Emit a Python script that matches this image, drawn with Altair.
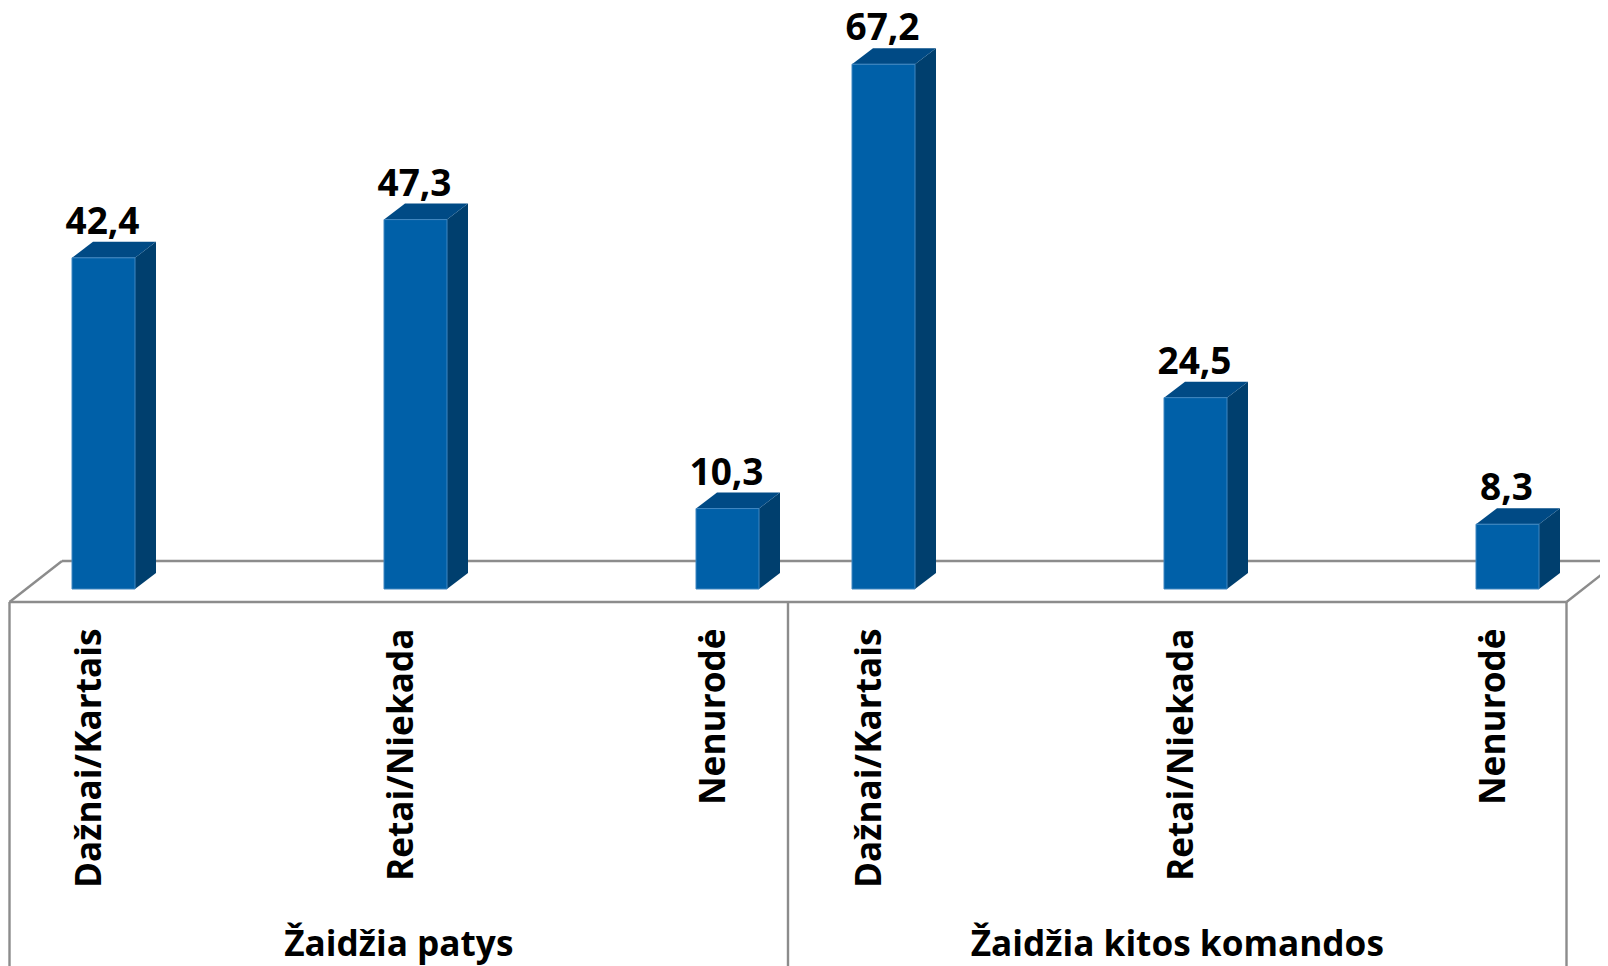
import altair as alt
import pandas as pd

groups = ["Žaidžia patys", "Žaidžia kitos komandos"]
categories = ["Dažnai/Kartais", "Retai/Niekada", "Nenurodė"]
values_group1 = [42.4, 47.3, 10.3]
values_group2 = [67.2, 24.5, 8.3]
value_labels1 = ["42,4", "47,3", "10,3"]
value_labels2 = ["67,2", "24,5", "8,3"]

W, H = 1592, 958
FONT = "Open Sans"
SLOT_PX = 156.0
PX_PER_UNIT = 7.81
X0 = 95.5   # slot 0 in chart pixels
Y0 = 581.0  # value 0 in chart pixels
BAR = 63 / SLOT_PX
DEPTH = 21 / SLOT_PX
LIFT = 16 / PX_PER_UNIT
FRONT = (Y0 - 594) / PX_PER_UNIT
BACK = FRONT + (41 / PX_PER_UNIT)
LEFT = (1.5 - X0) / SLOT_PX
MID = LEFT + 778.5 / SLOT_PX
RIGHT = MID + 778.5 / SLOT_PX
BACK_DX = 52.5 / SLOT_PX
BOTTOM = (Y0 - H) / PX_PER_UNIT
LABEL_TOP = (Y0 - 620.5) / PX_PER_UNIT
GROUP_BASE = (Y0 - 948) / PX_PER_UNIT

xs = alt.Scale(domain=[-X0 / SLOT_PX, (W - X0) / SLOT_PX], range=[0, W], nice=False, zero=False)
ys = alt.Scale(domain=[(Y0 - H) / PX_PER_UNIT, Y0 / PX_PER_UNIT], range=[H, 0], nice=False, zero=False)
X = lambda f: alt.X(f, type="quantitative", scale=xs, axis=None, title=None)
Y = lambda f: alt.Y(f, type="quantitative", scale=ys, axis=None, title=None)

rows = []
for g, (vals, labs) in enumerate([(values_group1, value_labels1), (values_group2, value_labels2)]):
    for c, (v, lab) in enumerate(zip(vals, labs)):
        rows.append(dict(bar=f"b{g * 3 + c}", slot=g * 5 + c * 2, cat=categories[c], v=v, lab=lab))
df = pd.DataFrame(rows)
df["l"] = df.slot - BAR / 2
df["r"] = df.slot + BAR / 2
df["zero"] = 0.0
df["top"] = df.v + LIFT
df["label_y"] = LABEL_TOP

side_rows, top_rows = [], []
for _, b in df.iterrows():
    side_rows.append(dict(bar=b.bar, xa=b.r, ya=0.0, yb=b.v, k=0))
    side_rows.append(dict(bar=b.bar, xa=b.r + DEPTH, ya=LIFT, yb=b.v + LIFT, k=1))
    top_rows.append(dict(bar=b.bar, ya=b.v, xa=b.l, xb=b.r, k=0))
    top_rows.append(dict(bar=b.bar, ya=b.v + LIFT, xa=b.l + DEPTH, xb=b.r + DEPTH, k=1))
side = pd.DataFrame(side_rows)
topf = pd.DataFrame(top_rows)

GRAY = "#8C8C8C"
seg = pd.DataFrame([
    dict(xa=LEFT, xb=RIGHT, ya=FRONT, yb=FRONT),
    dict(xa=LEFT + BACK_DX, xb=RIGHT + BACK_DX, ya=BACK, yb=BACK),
    dict(xa=LEFT, xb=LEFT + BACK_DX, ya=FRONT, yb=BACK),
    dict(xa=RIGHT, xb=RIGHT + BACK_DX, ya=FRONT, yb=BACK),
    dict(xa=LEFT, xb=LEFT, ya=FRONT, yb=BOTTOM),
    dict(xa=MID, xb=MID, ya=FRONT, yb=BOTTOM),
    dict(xa=RIGHT, xb=RIGHT, ya=FRONT, yb=BOTTOM),
])
floor = alt.Chart(seg).mark_rule(color=GRAY, strokeWidth=2.4).encode(
    x=X("xa"), x2="xb", y=Y("ya"), y2="yb")

side_m = alt.Chart(side).mark_area(color="#003F6E", orient="vertical", interpolate="linear").encode(
    x=X("xa"), y=Y("ya"), y2="yb", detail="bar:N")
top_m = alt.Chart(topf).mark_area(color="#004A85", orient="horizontal", interpolate="linear").encode(
    y=Y("ya"), x=X("xa"), x2="xb", detail="bar:N")
front = alt.Chart(df).mark_rect(color="#0060A8", stroke="#3F86C0", strokeWidth=1).encode(
    x=X("l"), x2="r", y=Y("zero"), y2="v")

val_txt = alt.Chart(df).mark_text(font=FONT, fontWeight="bold", fontSize=37, color="#000000",
                                  baseline="alphabetic", align="center", dx=-1, dy=-8).encode(
    x=X("slot"), y=Y("top"), text="lab:N")

cat_txt = alt.Chart(df).mark_text(font=FONT, fontWeight="bold", fontSize=35.2, color="#000000", angle=270,
                                  align="right", baseline="middle", dy=-14).encode(
    x=X("slot"), y=Y("label_y"), text="cat:N")

gdf = pd.DataFrame(dict(name=groups, xa=[(LEFT + MID) / 2, (MID + RIGHT) / 2], ya=[GROUP_BASE, GROUP_BASE]))
grp_txt = alt.Chart(gdf).mark_text(font=FONT, fontWeight="bold", fontSize=35.2, color="#000000",
                                   baseline="alphabetic", align="center").encode(
    x=X("xa"), y=Y("ya"), text="name:N")

chart = alt.layer(floor, side_m, top_m, front, val_txt, cat_txt, grp_txt).properties(
    width=W, height=H, padding=0, autosize=alt.AutoSizeParams(type="none"), background="white"
).configure_view(stroke=None)

chart.save("out.html", embed_options={"renderer": "svg", "actions": False})
